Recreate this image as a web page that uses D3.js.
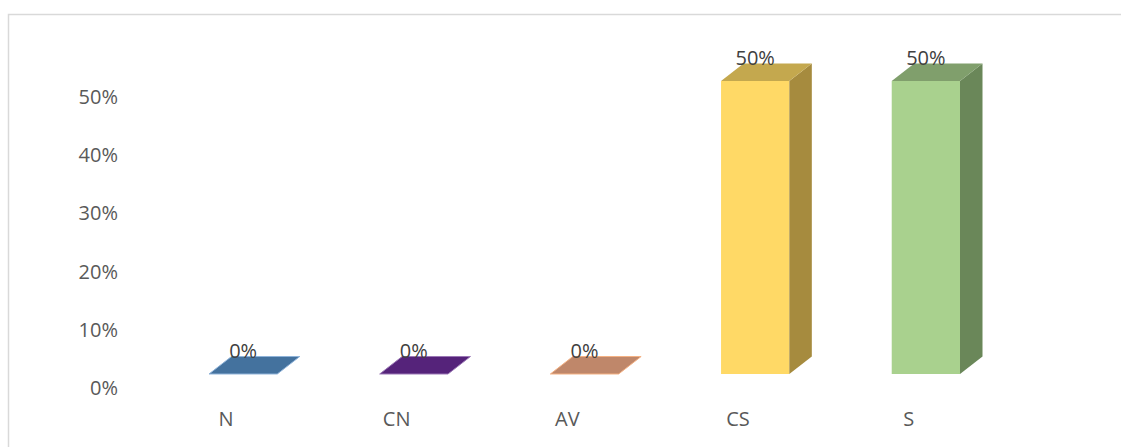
<!DOCTYPE html>
<html>
<head>
<meta charset="utf-8">
<script src="https://cdn.jsdelivr.net/npm/d3@7"></script>
<style>
  body { margin: 0; background: #fff; }
  svg { display: block; font-family: "Open Sans", sans-serif; }
</style>
</head>
<body>
<svg width="1121" height="447"></svg>
<script>
var categories = ["N", "CN", "AV", "CS", "S"];
var values = [0, 0, 0, 0.5, 0.5];
var tickValues = [0, 0.1, 0.2, 0.3, 0.4, 0.5];
var frontColors = ["#5B9BD5", "#7030A0", "#F4B183", "#FFD966", "#A9D18E"];
var topColors = ["#44729E", "#55237A", "#BF876A", "#C4A84E", "#809F6C"];
var sideColors = ["#3A6388", "#461D66", "#A8735A", "#A68B3E", "#6A8759"];
var edgeColors = ["#8FB3D9", "#9A77B5", "#F4B183", "#E6C760", "#9CC281"];

var svg = d3.select("svg");

// chart frame (runs off right and bottom)
svg.append("path")
    .attr("d", "M8.5,447 V14.5 H1121")
    .style("fill", "none")
    .style("stroke", "#d9d9d9")
    .style("stroke-width", "1.5px");

var x = d3.scaleBand()
    .domain(categories)
    .range([209, 960])
    .paddingInner(0.6)
    .paddingOuter(0);

// front face scale
var y = d3.scaleLinear().domain([0, 0.5]).range([374, 81]);
// axis label scale (back wall)
var yAxis = d3.scaleLinear().domain([0, 0.5]).range([388, 97]);

var dx = 22.5, dy = -17.5;
var fmt = d3.format(".0%");

// y axis labels
svg.selectAll(".ytick")
    .data(tickValues)
    .enter().append("text")
    .attr("class", "ytick")
    .attr("x", 118)
    .attr("y", function(d) { return yAxis(d); })
    .attr("dy", "0.35em")
    .attr("text-anchor", "end")
    .style("font-size", "20px")
    .style("fill", "#595959")
    .text(function(d) { return fmt(d); });

var bars = svg.selectAll(".bar")
    .data(values)
    .enter().append("g")
    .attr("class", "bar");

var w = x.bandwidth();

bars.each(function(v, i) {
    var g = d3.select(this);
    var x0 = x(categories[i]), x1 = x0 + w;
    var yt = y(v), yb = y(0);
    if (v > 0) {
        // front
        g.append("rect")
            .attr("x", x0).attr("y", yt)
            .attr("width", w).attr("height", yb - yt)
            .style("fill", frontColors[i]);
        // side
        g.append("path")
            .attr("d", "M" + x1 + "," + yt + " L" + (x1 + dx) + "," + (yt + dy) +
                " L" + (x1 + dx) + "," + (yb + dy) + " L" + x1 + "," + yb + "Z")
            .style("fill", sideColors[i]);
    }
    // top
    g.append("path")
        .attr("d", "M" + x0 + "," + yt + " L" + x1 + "," + yt +
            " L" + (x1 + dx) + "," + (yt + dy) + " L" + (x0 + dx) + "," + (yt + dy) + "Z")
        .style("fill", topColors[i])
        .style("stroke", v > 0 ? "none" : edgeColors[i])
        .style("stroke-width", "1px");
});

// value labels
svg.selectAll(".vlabel")
    .data(values)
    .enter().append("text")
    .attr("class", "vlabel")
    .attr("x", function(d, i) { return x(categories[i]) + w / 2; })
    .attr("y", function(d) { return y(d) + dy + 1; })
    .attr("text-anchor", "middle")
    .style("font-size", "20px")
    .style("fill", "#404040")
    .text(function(d) { return fmt(d); });

// category labels
svg.selectAll(".xlabel")
    .data(categories)
    .enter().append("text")
    .attr("class", "xlabel")
    .attr("x", function(d) { return x(d) + 17; })
    .attr("y", 426)
    .attr("text-anchor", "middle")
    .style("font-size", "20px")
    .style("fill", "#595959")
    .text(function(d) { return d; });
</script>
</body>
</html>
